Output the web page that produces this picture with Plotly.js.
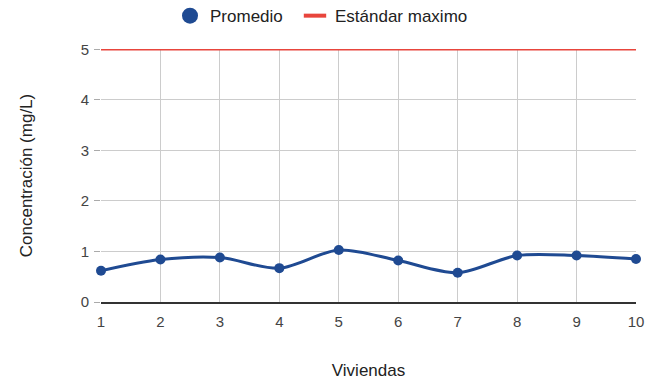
<!DOCTYPE html>
<html>
<head>
<meta charset="utf-8">
<script src="https://cdn.plot.ly/plotly-3.0.1.min.js"></script>
<style>
  html, body { margin: 0; padding: 0; background: #fff; }
  #chart { width: 659px; height: 380px; }
</style>
</head>
<body>
<div id="chart"></div>
<script>
// Viviendas muestreadas y concentración promedio medida (mg/L)
const viviendas = [1, 2, 3, 4, 5, 6, 7, 8, 9, 10];
const promedio = [0.62, 0.84, 0.88, 0.67, 1.03, 0.82, 0.58, 0.92, 0.92, 0.85];
const estandarMaximo = [5, 5, 5, 5, 5, 5, 5, 5, 5, 5];
const yTicks = [0, 1, 2, 3, 4, 5];

const azul = '#1f4a92';
const rojo = '#e8453c';
const fuente = 'Liberation Sans, Arial, sans-serif';

const traces = [
  {
    x: viviendas, y: estandarMaximo, mode: 'lines', name: 'Estándar maximo',
    line: { color: rojo, width: 2 }, showlegend: false, cliponaxis: false
  },
  {
    x: viviendas, y: promedio, mode: 'lines+markers', name: 'Promedio',
    line: { color: azul, width: 3, shape: 'spline', smoothing: 0.9 },
    marker: { color: azul, size: 10 },
    showlegend: false, cliponaxis: false
  },
  // Legend entries: a dot for the average and a short bar for the limit
  {
    x: [null], y: [null], mode: 'markers', name: 'Promedio', legend: 'legend',
    marker: { color: azul, size: 16, symbol: 'circle' }
  },
  {
    x: [null], y: [null], mode: 'markers', name: 'Estándar maximo', legend: 'legend2',
    marker: { color: rojo, size: 18, symbol: 'line-ew-open', line: { color: rojo, width: 4 } }
  }
];

const legendBase = {
  orientation: 'h', xanchor: 'left', y: 1.13, yanchor: 'middle',
  font: { family: fuente, size: 17, color: '#222' },
  itemsizing: 'trace', itemwidth: 30, bgcolor: 'rgba(0,0,0,0)'
};

const layout = {
  width: 659, height: 380,
  margin: { l: 101, r: 23, t: 49, b: 78, autoexpand: false },
  paper_bgcolor: '#ffffff', plot_bgcolor: '#ffffff',
  font: { family: fuente, size: 15, color: '#444' },
  showlegend: true,
  legend: Object.assign({}, legendBase, { x: 0.129 }),
  legend2: Object.assign({}, legendBase, { x: 0.3626 }),
  xaxis: {
    range: [1, 10], tickvals: viviendas, ticktext: viviendas.map(String),
    showgrid: true, gridcolor: '#cccccc', gridwidth: 1,
    showline: true, linecolor: '#333333', linewidth: 1.5,
    ticks: '', zeroline: false, ticklabelstandoff: 5,
    tickfont: { family: fuente, size: 15, color: '#444' },
    title: { text: 'Viviendas', font: { family: fuente, size: 17, color: '#222' }, standoff: 35 }
  },
  yaxis: {
    range: [0, 5.008], tickvals: yTicks, ticktext: yTicks.map(String),
    showgrid: true, gridcolor: '#cccccc', gridwidth: 1,
    showline: false, zeroline: false,
    ticks: 'outside', ticklen: 6, tickcolor: '#aaaaaa', ticklabelstandoff: 2,
    tickfont: { family: fuente, size: 15, color: '#444' },
    title: { text: 'Concentración (mg/L)', font: { family: fuente, size: 17, color: '#222' }, standoff: 43 }
  }
};

Plotly.newPlot('chart', traces, layout, { displayModeBar: false, staticPlot: true });
</script>
</body>
</html>
